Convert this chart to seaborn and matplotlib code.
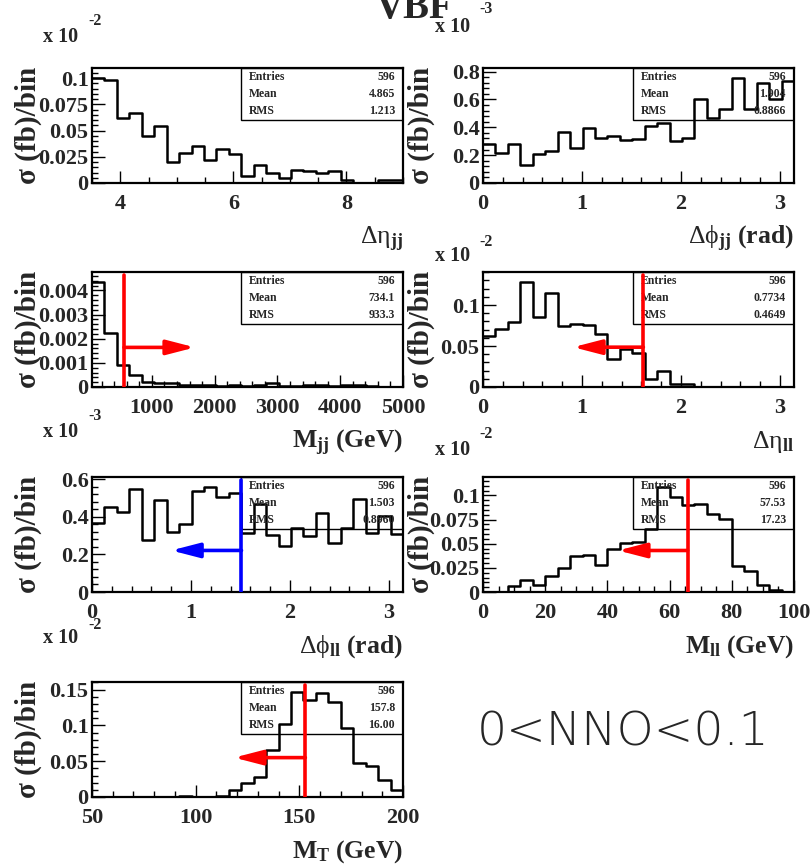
import numpy as np
import pandas as pd
import matplotlib
matplotlib.use("Agg")
import matplotlib.pyplot as plt
import seaborn as sns
from matplotlib.patches import Rectangle
from matplotlib.ticker import MultipleLocator, AutoMinorLocator, FuncFormatter

sns.set_style("white")
plt.rcParams["font.family"] = ["Liberation Serif", "DejaVu Serif"]
plt.rcParams["mathtext.fontset"] = "custom"
plt.rcParams["mathtext.rm"] = "Liberation Serif"
plt.rcParams["mathtext.it"] = "Liberation Serif:italic"
plt.rcParams["mathtext.bf"] = "Liberation Serif:bold"
plt.rcParams["mathtext.default"] = "rm"

# ---------------- data (bin contents as displayed on each axis) ----------------
deta_jj = [0.0997, 0.0978, 0.0619, 0.0667, 0.0449, 0.0545, 0.0205, 0.0282, 0.0356, 0.0224,
           0.0324, 0.0276, 0.0064, 0.0170, 0.0096, 0.0048, 0.0122, 0.0115, 0.0096, 0.0115,
           0.0026, 0.0, 0.0, 0.0026, 0.0026]
dphi_jj = [0.283, 0.216, 0.278, 0.129, 0.209, 0.233, 0.369, 0.254, 0.398, 0.324,
           0.336, 0.307, 0.317, 0.408, 0.432, 0.300, 0.324, 0.600, 0.468, 0.532,
           0.751, 0.535, 0.715, 0.604, 0.736]
m_jj = [0.00433, 0.00225, 0.00090, 0.00051, 0.00020, 0.00018, 0.00015, 0.00010, 0.00008, 0.00010,
        0.00005, 0.00008, 0.00006, 0.00010, 0.00015, 0.00003, 0.00005, 0.00010, 0.00008, 0.00004,
        0.00007, 0.00007, 0.00005, 0.0, 0.0]
deta_ll = [0.0626, 0.0708, 0.0794, 0.1276, 0.0856, 0.1152, 0.0749, 0.0774, 0.0761, 0.0650,
           0.0337, 0.0461, 0.0412, 0.0103, 0.0193, 0.0033, 0.0033, 0.0, 0.0, 0.0,
           0.0, 0.0, 0.0, 0.0, 0.0]
dphi_ll = [0.366, 0.451, 0.428, 0.549, 0.278, 0.487, 0.319, 0.361, 0.538, 0.556,
           0.504, 0.529, 0.313, 0.469, 0.304, 0.242, 0.343, 0.299, 0.419, 0.260,
           0.343, 0.494, 0.313, 0.405, 0.310]
m_ll = [0.0, 0.0, 0.0059, 0.0128, 0.0076, 0.0163, 0.0250, 0.0372, 0.0382, 0.0278,
        0.0448, 0.0503, 0.0521, 0.0650, 0.1083, 0.0979, 0.0903, 0.0910, 0.0812, 0.0753,
        0.0274, 0.0222, 0.0069, 0.0024, 0.0]
m_t = [0.0, 0.0, 0.0, 0.0, 0.0, 0.0, 0.0, 0.0015, 0.0, 0.0,
       0.0014, 0.0093, 0.0200, 0.0280, 0.0654, 0.1014, 0.1460, 0.1360, 0.1458, 0.1320,
       0.0970, 0.0480, 0.0435, 0.0234, 0.0093]

entries = ["596"] * 7
means = ["4.865", "1.904", "734.1", "0.7734", "1.503", "57.53", "157.8"]
rmss = ["1.213", "0.8866", "933.3", "0.4649", "0.8960", "17.23", "16.00"]

xlabels = [r"$\Delta\eta_{\mathbf{jj}}$",
           r"$\Delta\phi_{\mathbf{jj}}\ \mathbf{(rad)}$",
           r"$\mathbf{M_{jj}\ (GeV)}$",
           r"$\Delta\eta_{\mathbf{ll}}$",
           r"$\Delta\phi_{\mathbf{ll}}\ \mathbf{(rad)}$",
           r"$\mathbf{M_{ll}\ (GeV)}$",
           r"$\mathbf{M_{T}\ (GeV)}$"]

# cut values: (cut x, arrow y, arrow tip x, colour)
cuts = [None, None,
        (555, 0.00164, 1686, "#ff0000"),
        (1.62, 0.0486, 0.91, "#ff0000"),
        (1.51, 0.221, 0.80, "#0000ff"),
        (65.8, 0.043, 43.4, "#ff0000"),
        (152.9, 0.055, 118.5, "#ff0000")]

exponents = ["-2", "-3", None, "-2", "-3", "-2", "-2"]

# ---------------- layout ----------------
W, H = 811, 865
fig = plt.figure(figsize=(W / 100, H / 100), dpi=100)

PI = np.pi
panels = [
    dict(vals=deta_jj, rng=(3.5, 9.0), major=2, minor=0.5, ymaj=0.025, col=0, row=0),
    dict(vals=dphi_jj, rng=(0, PI), major=1, minor=0.2, ymaj=0.2, col=1, row=0),
    dict(vals=m_jj, rng=(45, 5000), major=1000, minor=200, ymaj=0.001, col=0, row=1),
    dict(vals=deta_ll, rng=(0, PI), major=1, minor=0.2, ymaj=0.05, col=1, row=1),
    dict(vals=dphi_ll, rng=(0, PI), major=1, minor=0.2, ymaj=0.2, col=0, row=2),
    dict(vals=m_ll, rng=(0, 100), major=20, minor=5, ymaj=0.025, col=1, row=2),
    dict(vals=m_t, rng=(50, 200), major=50, minor=10, ymaj=0.05, col=0, row=3),
]
col_left = [92, 483]
row_top = [68, 272, 477, 682]
ax_w, ax_h = 311, 115

# exponent label positions (pixels): (x10 centre x, y, exponent x, y)
exp_pos = [(61, 37, 95, 21), (453, 27, 486, 9), None, (453, 256, 486, 242),
           (61, 432, 95, 416), (453, 450, 486, 434), (61, 638, 95, 625)]

fmt = FuncFormatter(lambda v, p: "%g" % round(v, 8))

for i, p in enumerate(panels):
    l = col_left[p["col"]]
    t = row_top[p["row"]]
    ax = fig.add_axes([l / W, 1 - (t + ax_h) / H, ax_w / W, ax_h / H])
    vals = np.array(p["vals"])
    edges = np.linspace(p["rng"][0], p["rng"][1], len(vals) + 1)
    centers = 0.5 * (edges[:-1] + edges[1:])
    df = pd.DataFrame({"x": centers, "w": vals})
    sns.histplot(data=df, x="x", weights="w", bins=list(edges), element="step", fill=False,
                 color="black", linewidth=1.8, ax=ax)
    ymax = vals.max() * 1.1
    ax.set_xlim(p["rng"])
    ax.set_ylim(0, ymax)
    ax.set_xlabel("")
    ax.set_ylabel("")
    for s in ax.spines.values():
        s.set_visible(True)
        s.set_color("black")
        s.set_linewidth(1.6)
    ax.xaxis.set_major_locator(MultipleLocator(p["major"]))
    ax.xaxis.set_minor_locator(MultipleLocator(p["minor"]))
    ax.yaxis.set_major_locator(MultipleLocator(p["ymaj"]))
    ax.yaxis.set_minor_locator(AutoMinorLocator(5))
    ax.xaxis.set_major_formatter(fmt)
    ax.yaxis.set_major_formatter(fmt)
    ax.tick_params(which="both", direction="in", top=False, right=False,
                   bottom=True, left=True, color="black", width=1.0)
    ax.tick_params(which="major", length=9)
    ax.tick_params(which="minor", length=4.5)
    ax.tick_params(axis="x", which="major", pad=8, labelsize=16)
    ax.tick_params(axis="y", which="major", pad=2.5, labelsize=16)
    for lab in ax.get_xticklabels() + ax.get_yticklabels():
        lab.set_fontweight("bold")

    # y label
    ylx = -0.206 if p["col"] == 0 else -0.199
    ax.text(ylx, 0.5, "σ (fb)/bin", rotation=90, ha="center", va="center",
            fontsize=21, fontweight="bold", transform=ax.transAxes)
    # x label
    ax.text(1.0, -0.53, xlabels[i], ha="right", va="baseline", fontsize=18.5,
            transform=ax.transAxes)

    # stats box
    bx0 = (241 - 92) / ax_w if p["col"] == 0 else (633 - 483) / ax_w
    bh = 52 / ax_h
    ax.add_patch(Rectangle((bx0, 1 - bh), 1 - bx0, bh, transform=ax.transAxes,
                           fill=False, edgecolor="black", linewidth=1.0, zorder=5))
    tx = bx0 + 8 / ax_w
    vx = 1 - 8 / ax_w
    for k, (nm, vv) in enumerate(zip(["Entries", "Mean", "RMS"],
                                     [entries[i], means[i], rmss[i]])):
        yy = 1 - (9 + 17 * k) / ax_h
        ax.text(tx, yy, nm, ha="left", va="center", fontsize=8.5, fontweight="bold",
                transform=ax.transAxes, zorder=6)
        ax.text(vx, yy, vv, ha="right", va="center", fontsize=8.5, fontweight="bold",
                transform=ax.transAxes, zorder=6)

    # cut line and arrow
    c = cuts[i]
    if c is not None:
        cx, ay, tipx, colr = c
        ax.axvline(cx, ymin=0, ymax=0.97, color=colr, linewidth=2.6, zorder=7)
        ax.annotate("", xy=(tipx, ay), xytext=(cx, ay),
                    arrowprops=dict(arrowstyle="-|>,head_length=0.85,head_width=0.22",
                                    mutation_scale=20, color=colr, linewidth=2.6,
                                    shrinkA=0, shrinkB=0),
                    zorder=7)

    # exponent labels
    e = exponents[i]
    if e is not None:
        x1, y1, x2, y2 = exp_pos[i]
        fig.text(x1 / W, 1 - y1 / H, "x 10", ha="center", va="center",
                 fontsize=14.5, fontweight="bold")
        fig.text(x2 / W, 1 - y2 / H, e, ha="center", va="center",
                 fontsize=11.5, fontweight="bold")

# title (partly cut by the top edge, as in the reference)
fig.text(415 / W, 1 - 18 / H, "VBF", ha="center", va="baseline", fontsize=28,
         fontweight="bold")

# selection text
fig.text(623 / W, 1 - 732 / H, "0<NNO<0.1", ha="center", va="center", fontsize=34,
         family=["DejaVu Sans"], fontweight=200)

fig.savefig("out.png", dpi=100)
